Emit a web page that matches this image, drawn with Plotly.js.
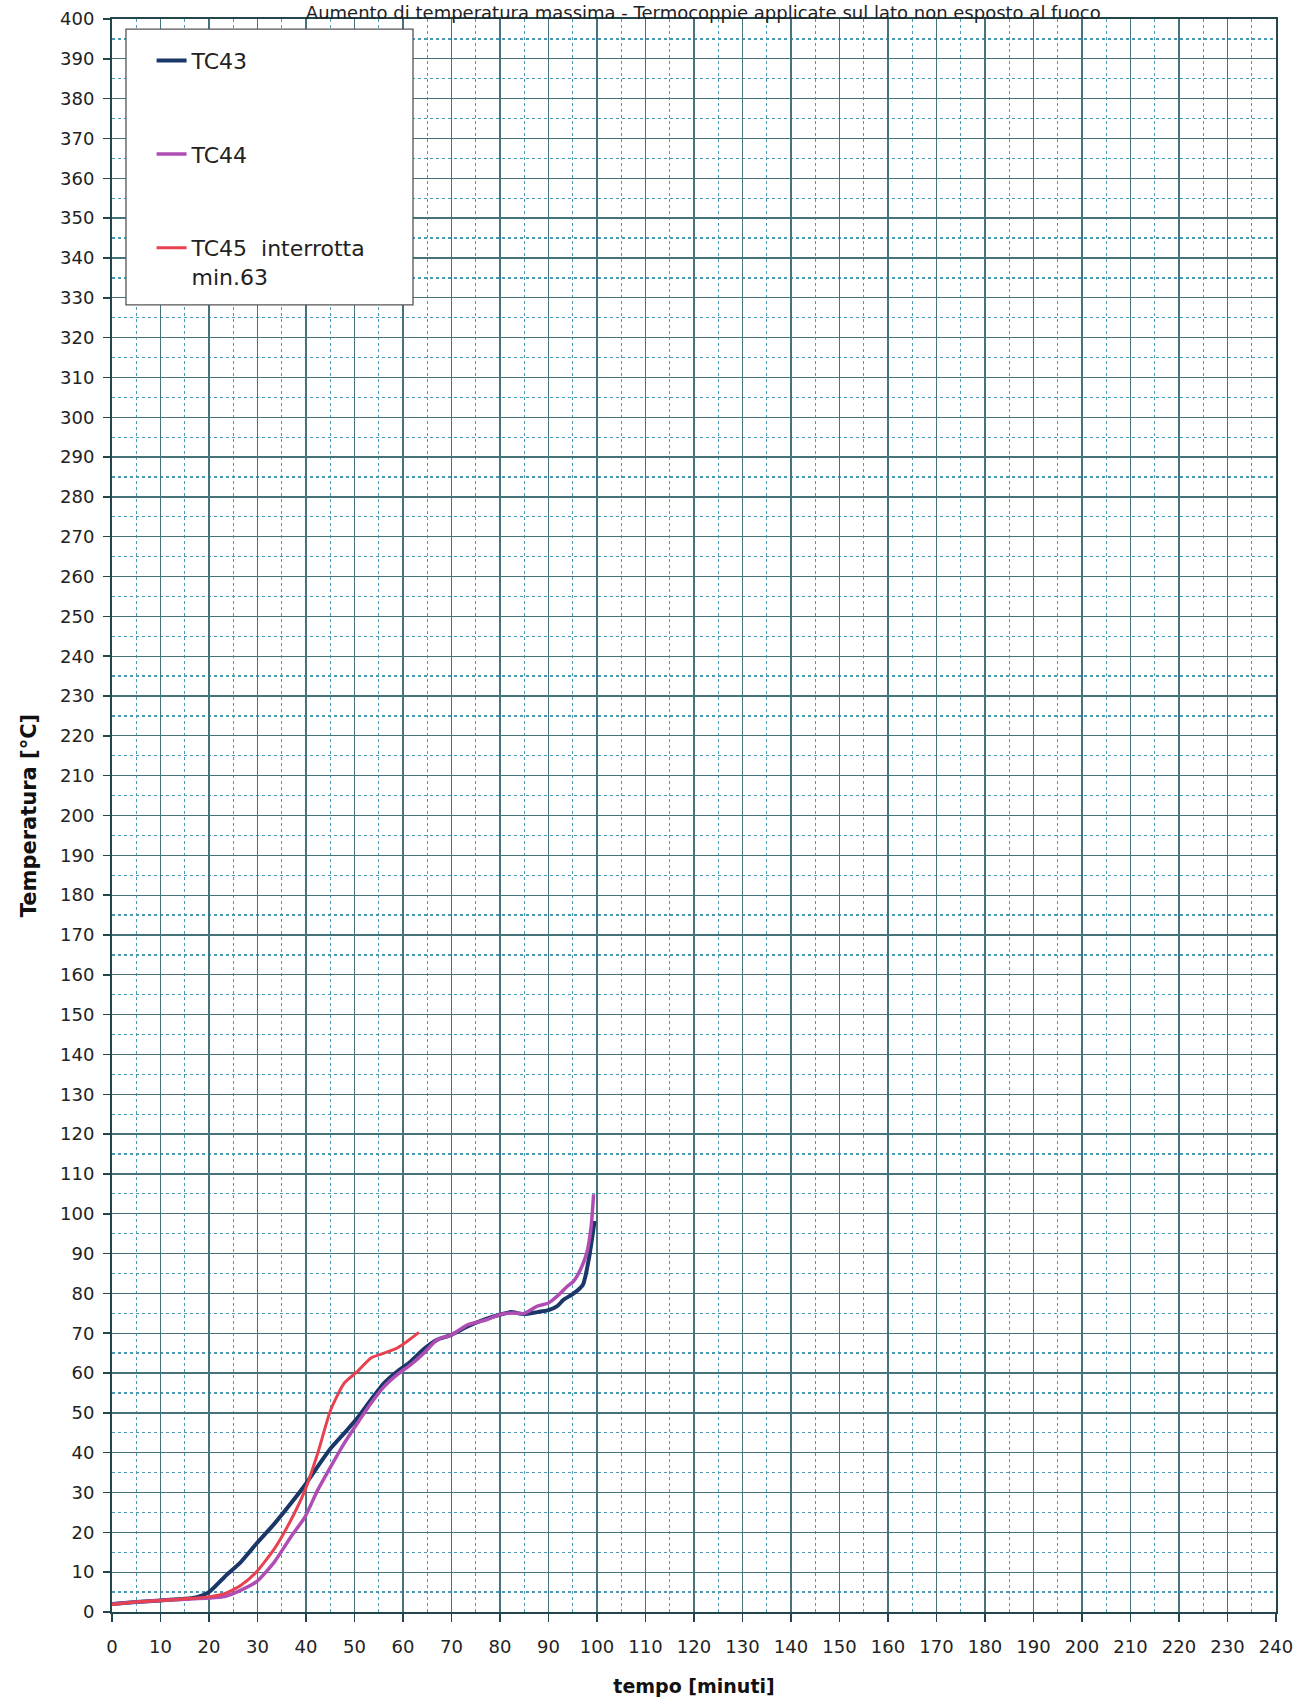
<!DOCTYPE html>
<html>
<head>
<meta charset="utf-8">
<script src="https://cdn.plot.ly/plotly-3.0.1.min.js"></script>
<style>
html,body{margin:0;padding:0;background:#fff;}
#chart{width:1298px;height:1699px;}
</style>
</head>
<body>
<div id="chart"></div>
<script>
// ---- data ----
const timeTC43 = [0, 5, 10, 15, 17.7, 20, 23.2, 26.6, 29.8, 33.5, 36.9, 39.8, 42.4, 45.1, 47.9, 50.6, 53.4, 56.1, 58.8, 61.6, 64.3, 67.1, 70, 73.3, 76.7, 80.1, 82.2, 84.9, 87.7, 90, 91.8, 93.1, 95.2, 97.1, 98.3, 99.5];
const tempTC43 = [2.0, 2.5, 2.9, 3.3, 3.8, 5.0, 8.8, 12.6, 17.2, 22.2, 27.3, 31.9, 36.5, 41.1, 44.9, 48.7, 53.3, 57.5, 60.4, 62.9, 66.0, 68.4, 69.6, 71.7, 73.4, 74.7, 75.3, 74.8, 75.3, 75.8, 76.8, 78.4, 80.0, 82.2, 88.5, 98.2];

const timeTC44 = [0, 5, 10, 15, 20, 23.2, 26.6, 29.8, 33.5, 36.9, 39.8, 42.4, 45.1, 47.9, 50.6, 53.4, 56.1, 58.8, 61.6, 64.3, 67.1, 70, 73.3, 76.7, 80.1, 82.9, 84.9, 87.7, 90, 91.8, 93.9, 95.2, 96.6, 97.9, 98.8, 99.3];
const tempTC44 = [2.0, 2.5, 2.9, 3.2, 3.5, 3.9, 5.5, 7.6, 12.6, 18.9, 23.9, 30.6, 36.5, 42.4, 47.4, 52.4, 56.6, 59.6, 62.1, 65.0, 68.4, 69.6, 72.1, 73.2, 74.7, 75.1, 74.9, 76.8, 77.6, 79.3, 81.8, 83.1, 86.0, 90.2, 96.9, 104.9];

const timeTC45 = [0, 5, 10, 15, 20, 23.2, 26.6, 29.8, 33.5, 36.9, 39.8, 42.4, 45.1, 47.9, 50.6, 53.4, 56.1, 58.8, 60.9, 63.3];
const tempTC45 = [1.9, 2.5, 2.9, 3.3, 3.8, 4.6, 6.7, 10.1, 15.9, 23.1, 30.6, 39.8, 50.8, 57.5, 60.4, 63.8, 65.0, 66.3, 68.0, 70.2];

const seriesNames = ["TC43", "TC44", "TC45  interrotta<br>min.63"];
const xTickVals = [0,10,20,30,40,50,60,70,80,90,100,110,120,130,140,150,160,170,180,190,200,210,220,230,240];
const yTickVals = [0,10,20,30,40,50,60,70,80,90,100,110,120,130,140,150,160,170,180,190,200,210,220,230,240,250,260,270,280,290,300,310,320,330,340,350,360,370,380,390,400];

const FONT = "DejaVu Sans, Verdana, sans-serif";

const traces = [
  {x: timeTC43, y: tempTC43, name: seriesNames[0], mode: "lines", line: {color: "#1b3768", width: 4, shape: "spline", smoothing: 0.6}, legendgroup: "a"},
  {x: timeTC44, y: tempTC44, name: seriesNames[1], mode: "lines", line: {color: "#b04db5", width: 3.5, shape: "spline", smoothing: 0.6}, legendgroup: "b"},
  {x: timeTC45, y: tempTC45, name: seriesNames[2], mode: "lines", line: {color: "#e8414f", width: 3, shape: "spline", smoothing: 0.6}, legendgroup: "c"}
];

const gridMajor = "#46727a";
const gridMinor = "#4a9ab6";

const layout = {
  width: 1298, height: 1699,
  paper_bgcolor: "#ffffff", plot_bgcolor: "#ffffff",
  margin: {l: 112, r: 22, t: 19, b: 87},
  font: {family: FONT, color: "#222"},
  title: {
    text: "Aumento di temperatura massima - Termocoppie applicate sul lato non esposto al fuoco",
    font: {family: FONT, size: 18, color: "#222"},
    xref: "paper", x: 0.508, xanchor: "center",
    yref: "container", y: 0.9925, yanchor: "middle"
  },
  xaxis: {
    range: [0, 240], tickvals: xTickVals, ticktext: xTickVals.map(String),
    showline: true, linecolor: "#22464c", linewidth: 2, mirror: true,
    ticks: "outside", ticklen: 8, tickcolor: "#22464c", tickwidth: 1.5,
    ticklabelstandoff: 9,
    tickfont: {family: FONT, size: 18, color: "#222"},
    showgrid: true, gridcolor: gridMajor, gridwidth: 1.3,
    minor: {dtick: 5, showgrid: true, gridcolor: gridMinor, griddash: "dot", gridwidth: 1.3},
    zeroline: false, automargin: false,
    title: {text: "<b>tempo [minuti]</b>", font: {family: FONT, size: 19, color: "#111"}, standoff: 24}
  },
  yaxis: {
    range: [0, 400], tickvals: yTickVals, ticktext: yTickVals.map(String),
    showline: true, linecolor: "#22464c", linewidth: 2, mirror: true,
    ticks: "outside", ticklen: 7, tickcolor: "#22464c", tickwidth: 1.5,
    ticklabelstandoff: 5,
    tickfont: {family: FONT, size: 18, color: "#222"},
    showgrid: true, gridcolor: gridMajor, gridwidth: 1.3,
    minor: {dtick: 5, showgrid: true, gridcolor: gridMinor, griddash: "dot", gridwidth: 1.3},
    zeroline: false, automargin: false,
    title: {text: "<b>Temperatura [°C]</b>", font: {family: FONT, size: 21, color: "#111"}, standoff: 18}
  },
  shapes: [
    {type: "rect", xref: "paper", yref: "paper", x0: 0.012, x1: 0.2586, y0: 0.8205, y1: 0.9937,
     fillcolor: "#ffffff", line: {color: "#555", width: 1.3}, layer: "above"}
  ],
  showlegend: true,
  legend: {
    x: 0.034, xanchor: "left", y: 0.987, yanchor: "top",
    bgcolor: "rgba(0,0,0,0)", borderwidth: 0,
    font: {family: FONT, size: 22, color: "#222"},
    traceorder: "grouped", tracegroupgap: 62, valign: "top"
  }
};

Plotly.newPlot("chart", traces, layout, {displayModeBar: false, staticPlot: true});
</script>
</body>
</html>
